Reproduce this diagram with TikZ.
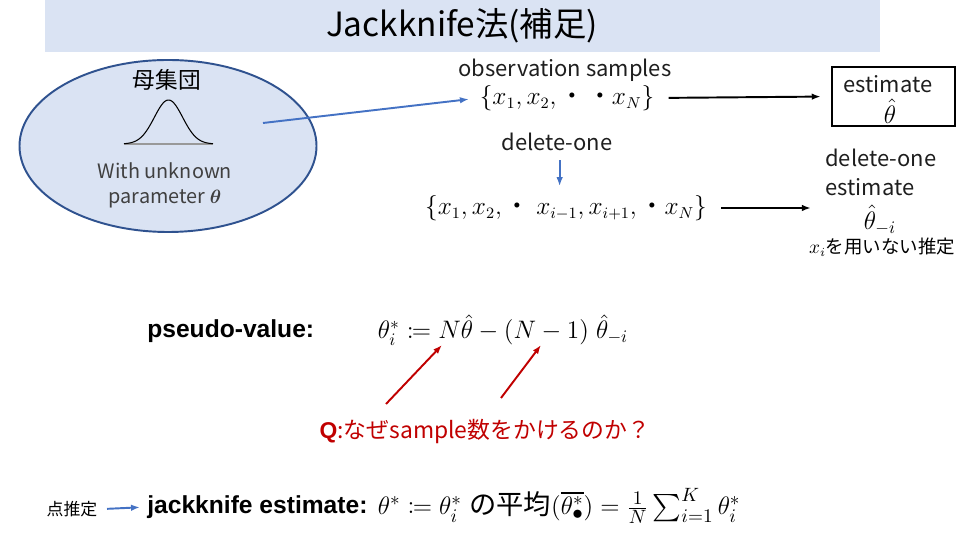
\documentclass[tikz,border=0pt]{standalone}
\usepackage{fontspec}
\usepackage{amsmath,amssymb,mathtools}
\setmainfont{Liberation Sans}
\newfontfamily\jp{Noto Sans CJK JP}
\usetikzlibrary{arrows.meta,positioning,calc,shapes.geometric}
\definecolor{BandBlue}{RGB}{218,227,243}
\definecolor{EdgeBlue}{RGB}{47,82,143}
\definecolor{ArrowBlue}{RGB}{68,114,196}
\definecolor{DarkRed}{RGB}{192,0,0}
\definecolor{Ink}{RGB}{30,30,30}
\definecolor{SoftInk}{RGB}{64,64,64}
\tikzset{
  >=Latex,
  jptext/.style={font=\jp\fontsize{12.5}{16.4}\selectfont,text=Ink,inner sep=0pt},
  smalljp/.style={font=\jp\fontsize{10.5}{12}\selectfont,text=black,inner sep=0pt},
  heading/.style={font=\bfseries\fontsize{14}{16}\selectfont,text=black,anchor=west,inner sep=0pt},
  formula/.style={font=\fontsize{14.5}{17}\selectfont,text=black,inner sep=0pt},
  setmath/.style={font=\fontsize{13.5}{15}\selectfont,text=black,inner sep=0pt},
  flow/.style={-{Latex[length=1.8mm,width=1.3mm]},line width=1.1pt,draw=ArrowBlue},
  result/.style={-{Latex[length=1.8mm,width=1.3mm]},line width=1.1pt,draw=black},
  hint/.style={-{Latex[length=1.8mm,width=1.3mm]},line width=1.1pt,draw=DarkRed}
}

\begin{document}
\begin{tikzpicture}[x=1cm,y=1cm]
  \useasboundingbox (0,0) rectangle (19.2,10.8);
  % title band
  \fill[BandBlue] (0.9,9.76) rectangle (17.6,10.8);
  \node[font=\jp\fontsize{19}{22}\selectfont,text=black] (title) at (9.24,10.28) {Jackknife法(補足)};
  % population
  \node[ellipse,draw=EdgeBlue,line width=1.1pt,fill=BandBlue,minimum width=5.94cm,minimum height=3.44cm] (pop) at (3.36,7.88) {};
  \node[font=\jp\fontsize{12.9}{15}\selectfont,text=black] (popname) at (3.34,9.2) {母集団};
  \draw[gray!80,line width=.6pt] (2.48,7.92) -- (4.26,7.92);
  \draw[black,line width=.6pt,domain=-0.89:0.89,samples=60] plot ({3.37+\x},{7.92+0.88*exp(-(\x/0.4)^2)});
  \node[font=\jp\fontsize{11.3}{14}\selectfont,text=SoftInk,align=center] (poptext) at (3.3,7.09) {With unknown\\parameter $\boldsymbol{\theta}$};
  \coordinate (popout) at (5.26,8.34);
  % observation samples
  \node[jptext] (obs) at (11.3,9.4) {observation samples};
  \node[setmath] (samples) at (11.34,8.84) {$\{x_1,x_2,$\,{\jp ・\,・}$x_N\}$};
  \node[draw=black,line width=.8pt,minimum width=2.46cm,minimum height=1.18cm,inner sep=0pt] (estbox) at (17.87,8.87) {};
  \node[jptext] (est) at (17.76,9.12) {estimate};
  \node[formula] (esthat) at (17.8,8.58) {$\hat{\theta}$};
  \draw[flow,shorten >=6pt] (popout) -- (samples.west);
  \draw[result,shorten <=8pt,shorten >=6pt] (samples.east) -- (estbox.west);
  % delete-one
  \node[jptext] (delone) at (11.14,7.96) {delete-one};
  \node[setmath] (subset) at (11.32,6.64) {$\{x_1,x_2,$\,{\jp ・}\;$x_{i-1},x_{i+1},$\,{\jp ・}$x_N\}$};
  \draw[flow,shorten <=5pt,shorten >=5pt] ([xshift=1.5pt]delone.south) -- ([xshift=1.5pt]delone.south |- subset.north);
  \node[jptext,align=left,anchor=north west] (delest) at (16.5,7.82) {delete-one\\estimate};
  \node[formula] (thetami) at (17.6,6.4) {$\hat{\theta}_{-i}$};
  \node[smalljp] (noxi) at (17.64,5.86) {$x_i$を用いない推定};
  \draw[result,shorten <=8pt,shorten >=8pt] (subset.east) -- (subset.east -| delest.west);
  % pseudo-value
  \node[heading] (pvlabel) at (2.94,4.18) {pseudo-value:};
  \node[formula,anchor=west] (pvformula) at (7.55,4.2) {$\theta_i^{*}\coloneqq N\hat{\theta}-(N-1)\;\hat{\theta}_{-i}$};
  \coordinate (qa) at (7.72,2.72);
  \coordinate (qb) at (10.02,2.84);
  \draw[hint] (qa) -- (8.84,3.9);
  \draw[hint] (qb) -- (10.82,3.9);
  \node[font=\jp\fontsize{13}{15}\selectfont,text=DarkRed] (question) at (9.7,2.16) {{\fontspec{Liberation Sans}\bfseries Q}:なぜsample数をかけるのか？};
  % jackknife estimate
  \node[font=\jp\fontsize{9.6}{11}\selectfont,text=black] (point) at (1.44,0.62) {点推定};
  \node[heading] (jklabel) at (2.94,0.66) {jackknife estimate:};
  \draw[flow,shorten <=2pt,shorten >=4pt] (point.east) -- (jklabel.west);
  \node[formula,font=\fontsize{15.5}{18}\selectfont,anchor=west] (jkformula) at (7.55,0.68) {$\theta^{*}\coloneqq\theta_i^{*}$\;{\jp の平均}$(\overline{\theta^{*}_{\mbox{\large$\bullet$}}})=\frac{1}{N}\sum_{i=1}^{K}\theta_i^{*}$};
\end{tikzpicture}
\end{document}
